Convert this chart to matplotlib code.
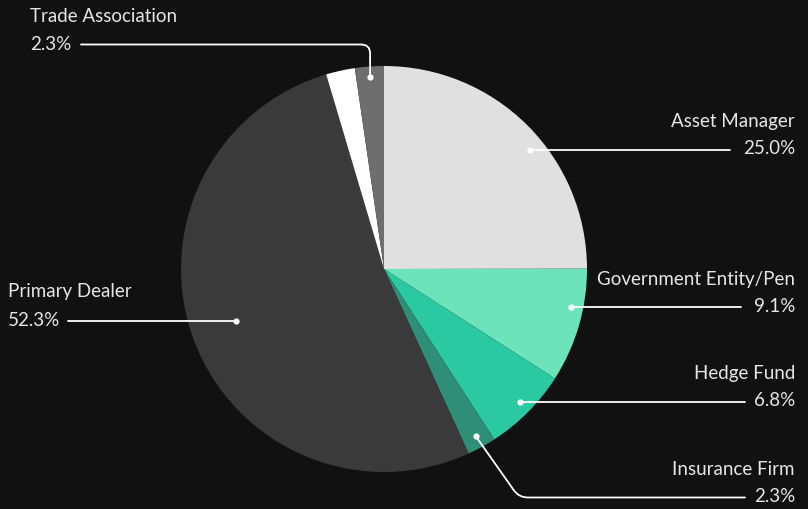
import numpy as np
import matplotlib.pyplot as plt
from matplotlib.path import Path
from matplotlib.patches import PathPatch

W, H = 808, 510
BG = "#111111"
TXT = "#e6e6e6"

categories = ["Asset Manager", "Government Entity/Pen", "Hedge Fund", "Insurance Firm",
              "Primary Dealer", "", "Trade Association"]
shares = [25.0, 9.1, 6.8, 2.3, 52.3, 2.3, 2.3]
colors = ["#e0e0e0", "#6de3bb", "#2bc9a1", "#2f8e76", "#3a3a3a", "#ffffff", "#6e6e6e"]

# label placement in pixels from top-left: text x, align, name y, pct y, line x, dot radius, style
label_layout = {
    "Asset Manager":         dict(tx=795, ha="right", ny=121, py=149, lx=730, r=189, style="flat"),
    "Government Entity/Pen": dict(tx=795, ha="right", ny=279, py=306, lx=741, r=191, style="flat"),
    "Hedge Fund":            dict(tx=795, ha="right", ny=374, py=401, lx=745, r=190, style="flat"),
    "Insurance Firm":        dict(tx=795, ha="right", ny=470, py=497, lx=745, r=191, style="elbow"),
    "Primary Dealer":        dict(tx=8,   ha="left",  ny=292, py=320, lx=68,  r=157, style="flat"),
    "Trade Association":     dict(tx=30,  ha="left",  ny=17,  py=44,  lx=81,  r=193, style="up"),
}

cx, cy, R = 384, 270, 203

plt.rcParams["font.family"] = ["Lato", "DejaVu Sans"]

fig = plt.figure(figsize=(W / 100, H / 100), dpi=100, facecolor=BG)
ax = fig.add_axes([0, 0, 1, 1])
ax.set_facecolor(BG)


def Y(py):
    return H - py


wedges, _ = ax.pie(shares, colors=colors, startangle=90, counterclock=False,
                   center=(cx, Y(cy)), radius=R, wedgeprops=dict(linewidth=0))
ax.set_xlim(0, W)
ax.set_ylim(0, H)
ax.set_aspect("equal")
ax.axis("off")


def rounded(points, rad=9):
    verts = [points[0]]
    codes = [Path.MOVETO]
    for i in range(1, len(points) - 1):
        p0, p1, p2 = map(np.array, points[i - 1:i + 2])
        a = p1 + (p0 - p1) / np.linalg.norm(p0 - p1) * rad
        b = p1 + (p2 - p1) / np.linalg.norm(p2 - p1) * rad
        verts += [tuple(a), tuple(p1), tuple(b)]
        codes += [Path.LINETO, Path.CURVE3, Path.CURVE3]
    verts.append(points[-1])
    codes.append(Path.LINETO)
    return Path(verts, codes)


for w, name, val in zip(wedges, categories, shares):
    if name not in label_layout:
        continue
    lay = label_layout[name]
    mid = np.deg2rad((w.theta1 + w.theta2) / 2)
    ly = Y(lay["py"]) - 1.5
    if lay["style"] == "flat":
        dy = ly - Y(cy)
        dx = np.sqrt(lay["r"] ** 2 - dy ** 2)
        dot = (cx + dx if lay["ha"] == "right" else cx - dx, ly)
        pts = [dot, (lay["lx"], ly)]
    else:
        dot = (cx + lay["r"] * np.cos(mid), Y(cy) + lay["r"] * np.sin(mid))
        if lay["style"] == "up":
            pts = [dot, (dot[0], ly), (lay["lx"], ly)]
        else:
            pts = [dot, (dot[0] + 43, ly), (lay["lx"], ly)]
    ax.add_patch(PathPatch(rounded(pts), fill=False, edgecolor="white", lw=1.3,
                           capstyle="round", zorder=3))
    ax.plot(*dot, "o", ms=4.5, color="white", mec="none", zorder=4)
    ax.text(lay["tx"], Y(lay["ny"]), name, ha=lay["ha"], va="center",
            fontsize=13.5, color=TXT)
    ax.text(lay["tx"], Y(lay["py"]), f"{val:.1f}%", ha=lay["ha"], va="center",
            fontsize=13.5, color=TXT)

fig.savefig("out.png", dpi=100, facecolor=BG)
